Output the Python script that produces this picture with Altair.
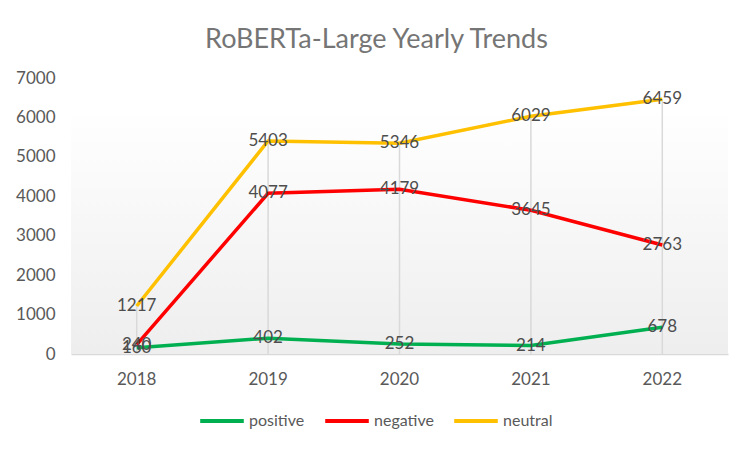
import altair as alt
import pandas as pd

years = ["2018", "2019", "2020", "2021", "2022"]
positive = [160, 402, 252, 214, 678]
negative = [240, 4077, 4179, 3645, 2763]
neutral = [1217, 5403, 5346, 6029, 6459]
y_ticks = [0, 1000, 2000, 3000, 4000, 5000, 6000, 7000]

series_names = ["positive", "negative", "neutral"]
series_colors = ["#00B050", "#FF0000", "#FFC000"]

rows = []
for name, vals in zip(series_names, [positive, negative, neutral]):
    for y, v in zip(years, vals):
        rows.append({"year": y, "series": name, "value": v})
df = pd.DataFrame(rows)

FONT = "Lato"
W, H = 657, 276

x_enc = alt.X("year:N", sort=years, scale=alt.Scale(paddingInner=0, paddingOuter=0),
              axis=alt.Axis(title=None, labelAngle=0, ticks=False, domainColor="#D9D9D9",
                            domainWidth=1.5, labelColor="#595959", labelFontSize=17,
                            labelFont=FONT, labelPadding=17, grid=False))
y_scale = alt.Scale(domain=[0, 7000], nice=False)
y_axis = alt.Axis(title=None, values=y_ticks, ticks=False, domain=False, grid=False,
                  labelColor="#595959", labelFontSize=17, labelFont=FONT, labelPadding=16,
                  format="d", labelOverlap=False, labelFlush=False, labelBound=False)

bg = alt.Chart(pd.DataFrame({"a": [0]})).mark_rect(
    color=alt.Gradient(gradient="linear", x1=0, y1=0, x2=0, y2=1,
                       stops=[alt.GradientStop(offset=0, color="#FFFFFF"),
                              alt.GradientStop(offset=1, color="#EEEEEE")])
).encode(x=alt.value(0), x2=alt.value(W), y=alt.value(30), y2=alt.value(H))

base = alt.Chart(df)

drops = base.transform_aggregate(
    vmax="max(value)", groupby=["year"]
).mark_rule(color="#D9D9D9", strokeWidth=1.5).encode(
    x=x_enc,
    y=alt.Y("vmax:Q", scale=y_scale, axis=y_axis),
    y2=alt.datum(0),
)

lines = base.mark_line(strokeWidth=3.5).encode(
    x=x_enc,
    y=alt.Y("value:Q", scale=y_scale, axis=y_axis),
    color=alt.Color("series:N", scale=alt.Scale(domain=series_names, range=series_colors),
                    legend=alt.Legend(title=None, orient="none", direction="horizontal",
                                      legendX=127, legendY=319, symbolType="stroke",
                                      symbolStrokeWidth=4, symbolSize=1900,
                                      labelFontSize=16, labelFont=FONT, labelColor="#595959",
                                      columnPadding=12, labelOffset=3)),
    detail="series:N",
)

labels = base.mark_text(font=FONT, fontSize=17, color="#4D4D4D", align="center",
                        baseline="middle").encode(
    x=x_enc,
    y=alt.Y("value:Q", scale=y_scale, axis=y_axis),
    text="value:Q",
)

chart = alt.layer(bg, drops, lines, labels).properties(
    width=W, height=H,
    title=alt.Title("RoBERTa-Large Yearly Trends", font=FONT, fontSize=27, fontWeight="normal",
                    color="#757575", anchor="middle", dx=-23, offset=15),
    autosize=alt.AutoSizeParams(type="none"),
    padding={"left": 63, "top": 70, "right": 15, "bottom": 90},
    background="white",
).configure_view(stroke=None)

chart.save("out.html", embed_options={"renderer": "svg", "actions": False})
